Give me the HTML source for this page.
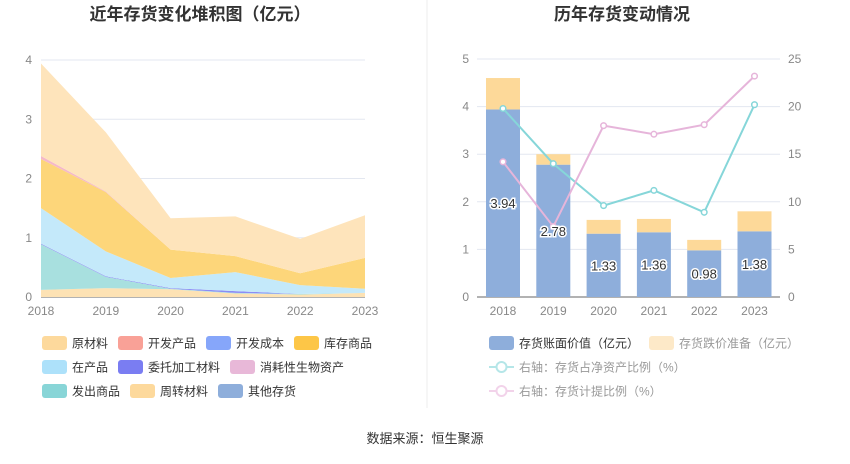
<!DOCTYPE html>
<html><head><meta charset="utf-8"><style>
body{margin:0;width:850px;height:459px;background:#fff;overflow:hidden;font-family:"Liberation Sans","Noto Sans CJK SC",sans-serif}
svg text{font-family:"Liberation Sans","Noto Sans CJK SC",sans-serif}
</style></head><body>
<svg id="s" width="850" height="459">
<text x="200" y="20" text-anchor="middle" font-size="17" font-weight="bold" fill="#333">近年存货变化堆积图（亿元）</text>
<text x="622" y="20" text-anchor="middle" font-size="17" font-weight="bold" fill="#333">历年存货变动情况</text>
<line x1="427" y1="0" x2="427" y2="408" stroke="#eee"/>
<text x="425" y="443" text-anchor="middle" font-size="13" fill="#333">数据来源：恒生聚源</text>
<g id="L"></g>
<g id="R"></g>
<g id="LL"></g>
<g id="RL"></g>
</svg>
<script>
const years=["2018","2019","2020","2021","2022","2023"];
const leftTicks=[0,1,2,3,4];
const s_zhouzhuan=[0.12,0.15,0.13,0.06,0.04,0.07];
const s_fachu=[0.77,0.19,0.01,0.01,0.01,0];
const s_weituo=[0.01,0.01,0.01,0.03,0,0];
const s_zaichan=[0.6,0.42,0.17,0.32,0.15,0.07];
const s_kucun=[0.83,1.0,0.48,0.27,0.2,0.52];
const s_xiaohao=[0.05,0.01,0,0,0,0];
const s_yuancailiao=[1.56,1.0,0.53,0.67,0.58,0.72];
const bookValue=[3.94,2.78,1.33,1.36,0.98,1.38];
const provision=[0.66,0.22,0.29,0.28,0.22,0.42];
const ratioNet=[19.8,14.0,9.6,11.2,8.9,20.2];
const ratioProv=[14.2,7.4,18.0,17.1,18.1,23.2];
const rightLeftTicks=[0,1,2,3,4,5];
const rightRightTicks=[0,5,10,15,20,25];
const NS="http://www.w3.org/2000/svg";
function mk(p,t,a){const e=document.createElementNS(NS,t);for(const k in a)e.setAttribute(k,a[k]);p.appendChild(e);return e;}
// left chart
const L=document.getElementById('L');
const lx=i=>41+i*64.8, ly=v=>297-v*59.25;
leftTicks.forEach(t=>{const g=mk(L,'line',{x1:41,x2:365,y1:ly(t),y2:ly(t),stroke:t?'#e3e7f0':'#666'});

const tx=mk(L,'text',{x:32,y:ly(t)+4,'text-anchor':'end','font-size':12,fill:'#888'});tx.textContent=t;
});
years.forEach((y,i)=>{const tx=mk(L,'text',{x:lx(i),y:315,'text-anchor':'middle','font-size':12,fill:'#888'});tx.textContent=y;
});
const series=[[s_zhouzhuan,'#fde2b4','area-zhouzhuan'],[s_fachu,'#a8e0df','area-fachu'],[s_weituo,'#8b8df5','area-weituo'],[s_zaichan,'#c4e9fa','area-zaichan'],[s_kucun,'#fdd67a','area-kucun'],[s_xiaohao,'#f5b9c8','area-xiaohao'],[s_yuancailiao,'#fee4bb','area-yuancailiao']];
let base=years.map(()=>0);
series.forEach(([d,c,n])=>{const top=base.map((b,i)=>b+d[i]);
let p='M'+top.map((v,i)=>lx(i)+','+ly(v)).join('L');
for(let i=years.length-1;i>=0;i--)p+='L'+lx(i)+','+ly(base[i]);
const e=mk(L,'path',{d:p+'Z',fill:c});base=top;});
// right chart
const R=document.getElementById('R');
const rx=i=>503+i*50.3, ry=v=>297-v*47.6, ry2=v=>297-v*9.52;
rightLeftTicks.forEach((t,k)=>{const g=mk(R,'line',{x1:477,x2:780,y1:ry(t),y2:ry(t),stroke:t?'#e3e7f0':'#666'});

const a=mk(R,'text',{x:469,y:ry(t)+4,'text-anchor':'end','font-size':12,fill:'#888'});a.textContent=t;

const b=mk(R,'text',{x:788,y:ry(t)+4,'font-size':12,fill:'#888'});b.textContent=rightRightTicks[k];
});
years.forEach((y,i)=>{const tx=mk(R,'text',{x:rx(i),y:315,'text-anchor':'middle','font-size':12,fill:'#888'});tx.textContent=y;

const b=mk(R,'rect',{x:rx(i)-17,y:ry(bookValue[i]),width:34,height:ry(0)-ry(bookValue[i]),fill:'#8eaedb'});

const p=mk(R,'rect',{x:rx(i)-17,y:ry(bookValue[i]+provision[i]),width:34,height:ry(bookValue[i])-ry(bookValue[i]+provision[i]),fill:'#fdd999'});
});
[[ratioNet,'#86d6d9','line-net-asset-ratio'],[ratioProv,'#e6b5da','line-provision-ratio']].forEach(([d,c,n])=>{
const e=mk(R,'polyline',{points:d.map((v,i)=>rx(i)+','+ry2(v)).join(' '),fill:'none',stroke:c,'stroke-width':2});

d.forEach((v,i)=>{const c2=mk(R,'circle',{cx:rx(i),cy:ry2(v),r:2.8,fill:'#fff',stroke:c,'stroke-width':1.5});
});});
years.forEach((y,i)=>{const t=mk(R,'text',{x:rx(i),y:ry(bookValue[i]/2)+5,'text-anchor':'middle','font-size':13,fill:'#333',stroke:'#fff','stroke-width':3,'paint-order':'stroke'});
t.textContent=bookValue[i].toFixed(2);});
// legends
const LL=document.getElementById('LL');
const leg=[['原材料','#fdd99c',42,343],['开发产品','#f9a197',118,343],['开发成本','#86a6fa',206,343],['库存商品','#fdc647',294,343],
['在产品','#ade1fa',42,367],['委托加工材料','#7a7df2',118,367],['消耗性生物资产','#e8b8d8',230,367],
['发出商品','#88d5d7',42,391],['周转材料','#fdd99c',130,391],['其他存货','#8eaedb',218,391]];
leg.forEach(([t,c,x,y])=>{const g=mk(LL,'g',{});
mk(g,'rect',{x:x,y:y-7,width:25,height:14,rx:3,fill:c});
const tx=mk(g,'text',{x:x+30,y:y+4.5,'font-size':12,fill:'#333'});tx.textContent=t;});
const RL=document.getElementById('RL');
[['存货账面价值（亿元）','#8eaedb',489,343,'#333'],['存货跌价准备（亿元）','#fde9c8',649,343,'#999']].forEach(([t,c,x,y,tc])=>{
const g=mk(RL,'g',{});
mk(g,'rect',{x:x,y:y-7,width:25,height:14,rx:3,fill:c});
const tx=mk(g,'text',{x:x+30,y:y+4.5,'font-size':12,fill:tc});tx.textContent=t;});
[['右轴：存货占净资产比例（%）','#b5e6e8',367],['右轴：存货计提比例（%）','#f2d3ea',391]].forEach(([t,c,y])=>{
const g=mk(RL,'g',{});
mk(g,'line',{x1:489,x2:514,y1:y,y2:y,stroke:c,'stroke-width':2});
mk(g,'circle',{cx:501.5,cy:y,r:5,fill:'#fff',stroke:c,'stroke-width':2});
const tx=mk(g,'text',{x:519,y:y+4.5,'font-size':12,fill:'#999'});tx.textContent=t;});
</script>
</body></html>
